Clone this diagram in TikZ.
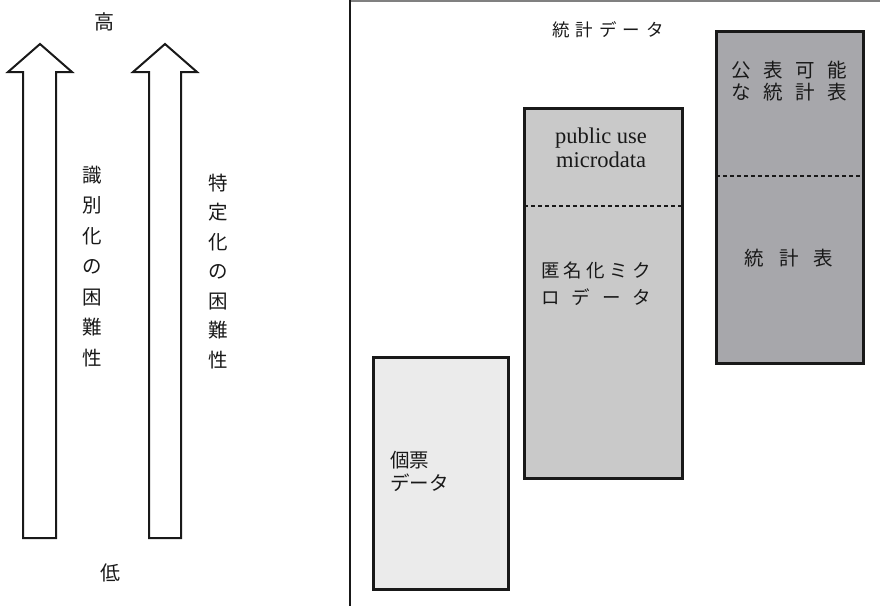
\documentclass[tikz,border=0pt]{standalone}
\usepackage{fontspec}
\setmainfont{Liberation Serif}
\newfontfamily\jp{Noto Sans CJK JP}
\newcommand\gp[1]{\hspace{#1pt}}
\begin{document}
\begin{tikzpicture}[x=1pt,y=-1pt,
  arr/.style={draw=black!90, line width=2pt, fill=white, line join=miter},
  databox/.style={draw=black!90, line width=3pt, inner sep=0pt},
  sep/.style={line width=1.3pt, black!90, dash pattern=on 4pt off 3pt},
  jt/.style={font=\jp, text=black!90, inner sep=0pt},
  vt/.style={jt, align=center, font=\jp\fontsize{19.5}{30.5}\selectfont}
]
\useasboundingbox (0,0) rectangle (880,606);
% frame
\draw[line width=2pt, black!50] (350,1) -- (880,1);
\draw[line width=1.5pt, black!90] (350,0) -- (350,606);
% arrows
\draw[arr] (23,538) -- (23,72) -- (8,72) -- (40,44) -- (72,72) -- (56,72) -- (56,538) -- cycle;
\draw[arr] (149,538) -- (149,72) -- (133,72) -- (165,44) -- (197,72) -- (181,72) -- (181,538) -- cycle;
\node[jt, font=\jp\fontsize{20}{22}\selectfont] (hi) at (104,22) {高};
\node[jt, font=\jp\fontsize{20}{22}\selectfont] (lo) at (110,573) {低};
\node[vt] (t1) at (92,266.5) {識\\別\\化\\の\\困\\難\\性};
\node[vt, font=\jp\fontsize{19.5}{29.5}\selectfont] (t2) at (218,271.5) {特\\定\\化\\の\\困\\難\\性};
% title
\node[jt, font=\jp\fontsize{17.5}{20}\selectfont] (title) at (608,30) {統\gp{6}計\gp{6}デ\gp{6}ー\gp{6}タ};
% boxes
\node[databox, fill=black!8, minimum width=135pt, minimum height=232pt] (b1) at (440.5,473) {};
\node[databox, fill=black!21, minimum width=158pt, minimum height=370pt] (b2) at (603,293) {};
\node[databox, fill={rgb,255:red,167;green,167;blue,171}, minimum width=147pt, minimum height=332pt] (b3) at (789.5,197) {};
\coordinate (d2l) at (524,206); \coordinate (d2r) at (682,206);
\coordinate (d3l) at (716,176); \coordinate (d3r) at (863,176);
\draw[sep] (d2l) -- (d2r);
\draw[sep] (d3l) -- (d3r);
% box texts
\node[jt, align=left, anchor=west, font=\jp\fontsize{19.5}{23}\selectfont] (k1) at (390,471.5) {個票\\データ};
\node[inner sep=0pt, align=center, text=black!90, font=\fontsize{22.5}{24}\selectfont] (pu) at (601,148) {public use\\microdata};
\node[jt, font=\jp\fontsize{18.5}{27}\selectfont, align=center] (tk) at (596,283.5)
  {\makebox[110pt][s]{匿\hfill 名\hfill 化\hfill ミ\hfill ク}\\\makebox[110pt][s]{ロ\hfill デ\hfill ー\hfill タ}};
\node[jt, font=\jp\fontsize{19.5}{22}\selectfont, align=center] (kh) at (789,81)
  {\makebox[116pt][s]{公\hfill 表\hfill 可\hfill 能}\\\makebox[116pt][s]{な\hfill 統\hfill 計\hfill 表}};
\node[jt, font=\jp\fontsize{19.5}{22}\selectfont] (tt) at (789,258) {統\gp{15}計\gp{15}表};
\end{tikzpicture}
\end{document}
